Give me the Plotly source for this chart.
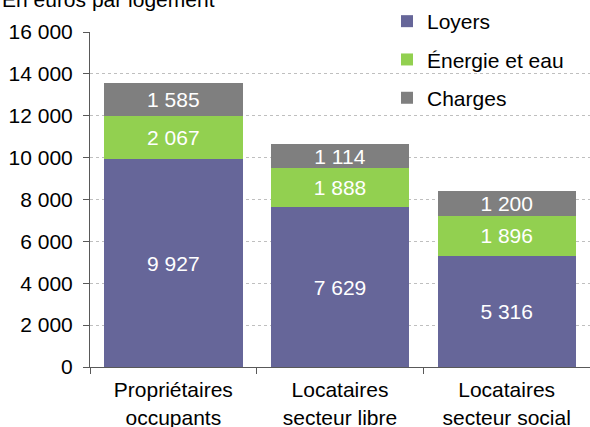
import plotly.graph_objects as go

categories = ["Propriétaires<br>occupants", "Locataires<br>secteur libre", "Locataires<br>secteur social"]
loyers = [9927, 7629, 5316]
energie = [2067, 1888, 1896]
charges = [1585, 1114, 1200]
y_ticks = [0, 2000, 4000, 6000, 8000, 10000, 12000, 14000, 16000]

FONT = "Liberation Sans"
FS = 21

fig = go.Figure()
series = [("Loyers", loyers, "#666699"), ("Énergie et eau", energie, "#92D050"), ("Charges", charges, "#7F7F7F")]
for name, vals, col in series:
    fig.add_trace(go.Bar(
        x=categories, y=vals, name=name, legendgroup=name,
        marker=dict(color=col, line=dict(width=0)),
        texttemplate="%{y:,.0f}", textposition="inside", insidetextanchor="middle",
        textfont=dict(color="white", size=FS, family=FONT),
    ))

fig.update_layout(
    width=590, height=427,
    margin=dict(l=90, r=0, t=32, b=60, autoexpand=False),
    barmode="stack", bargap=0.17,
    separators=", ",
    plot_bgcolor="white", paper_bgcolor="white",
    font=dict(family=FONT, size=FS, color="black"),
    uniformtext=dict(minsize=FS, mode="show"),
    showlegend=True,
    legend=dict(x=0.594, xanchor="left", y=1.0925, yanchor="top", traceorder="grouped",
                tracegroupgap=8, bgcolor="rgba(0,0,0,0)", font=dict(size=FS, family=FONT)),
    xaxis=dict(showline=True, linecolor="#595959", linewidth=1, ticks="outside", ticklen=6,
               tickcolor="#595959", tickson="boundaries", tickfont=dict(size=FS),
               ticklabelstandoff=4),
    yaxis=dict(range=[0, 16000], tickvals=y_ticks, tickformat=",d", showline=True, linecolor="#595959",
               linewidth=1, ticks="outside", ticklen=6, tickcolor="#595959",
               showgrid=True, gridcolor="#BFBFBF", griddash="dot", gridwidth=1, zeroline=False,
               tickfont=dict(size=FS), ticklabelstandoff=6),
    annotations=[dict(text="En euros par logement", xref="paper", yref="paper", x=-0.18, y=1.0985,
                      xanchor="left", yanchor="middle", showarrow=False, font=dict(size=FS))],
)

fig.write_html("out.html", config={"displayModeBar": False},
               post_script="document.body.style.margin='0';")
